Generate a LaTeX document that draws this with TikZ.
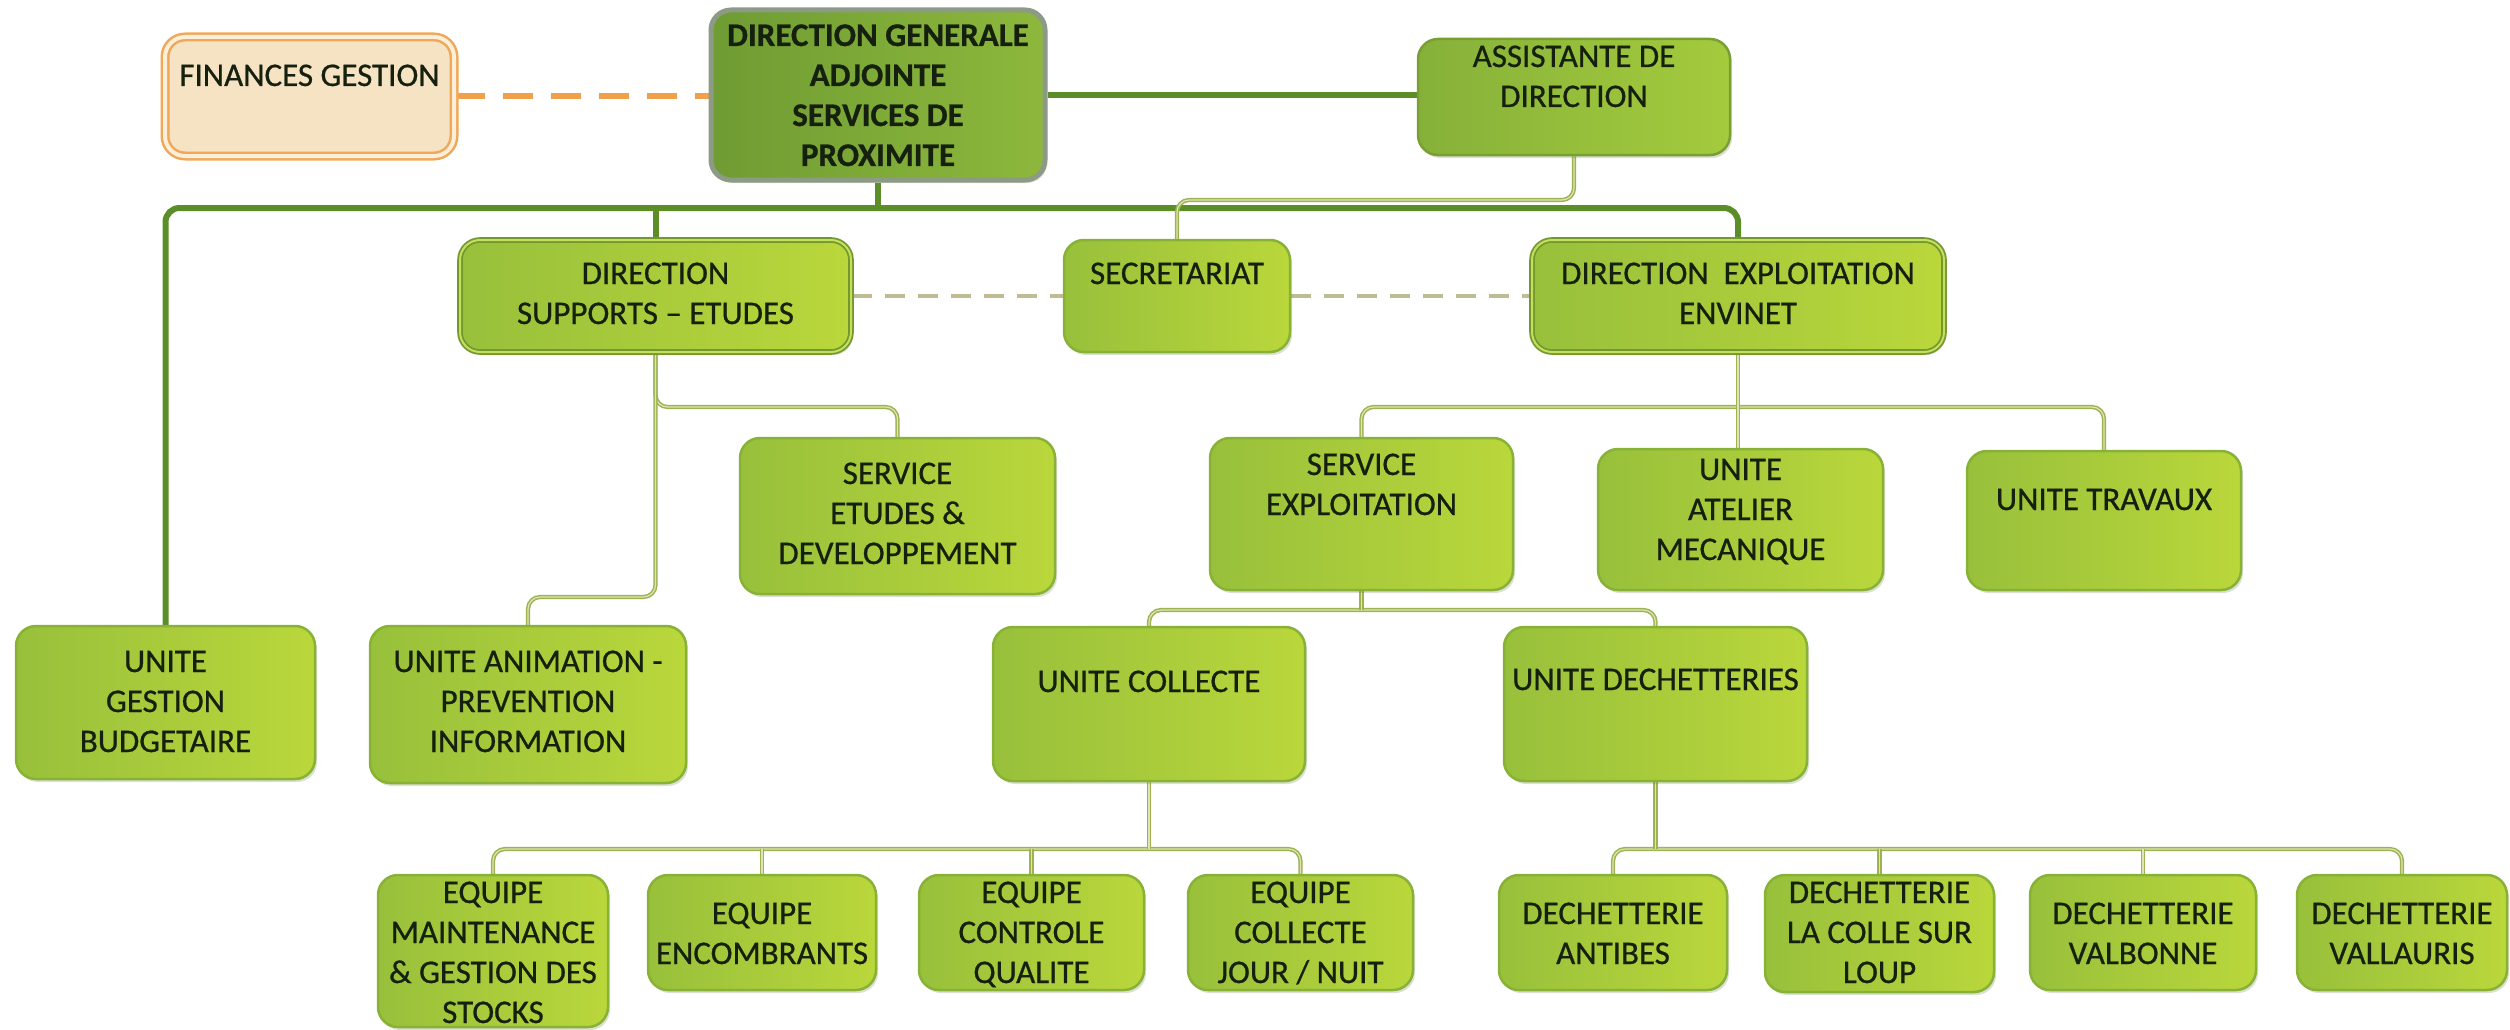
\documentclass[tikz,border=0pt]{standalone}
\usepackage{fontspec}
\setmainfont{Carlito}
\newfontfamily\boxfont{Carlito}[FakeBold=0.7,Ligatures=TeX]
\usetikzlibrary{shadows,backgrounds}
\definecolor{txt}{HTML}{16200F}
\definecolor{boxL}{HTML}{98C03B}
\definecolor{boxR}{HTML}{BAD73B}
\definecolor{boxedge}{HTML}{88B236}
\definecolor{dgaL}{HTML}{6F9C33}
\definecolor{dgaR}{HTML}{8DB83C}
\definecolor{dgaedge}{HTML}{8C9A86}
\definecolor{asstL}{HTML}{86B139}
\definecolor{asstR}{HTML}{A4CB3D}
\definecolor{finfill}{HTML}{F6E3C3}
\definecolor{finedge}{HTML}{F1A759}
\definecolor{findbl}{HTML}{FBEFD9}
\definecolor{thickc}{HTML}{5B8E27}
\definecolor{thinc}{HTML}{9EB350}
\definecolor{thinin}{HTML}{DDE5B8}
\definecolor{orangedash}{HTML}{F0A04B}
\definecolor{greydash}{HTML}{BDBC94}
\definecolor{shadowc}{HTML}{6E7F55}
\definecolor{inneredge}{HTML}{C4DE5E}
\newcommand\orgbox[8]{\node[#1] (#2) at ({(#3+#4)/2},{(#5+#6)/2}) {\parbox[c][\dimexpr#6pt-#5pt\relax][t]{\dimexpr#4pt-#3pt\relax}{\centering\boxfont\fontsize{33}{40}\selectfont\hyphenpenalty=10000\vspace*{#7pt}\strut #8}};}
\tikzset{
  box/.style={rounded corners=20pt, inner sep=0pt, draw=boxedge, line width=2.5pt,
    left color=boxL, right color=boxR, text=txt,
    drop shadow={shadow xshift=2pt, shadow yshift=-3pt, opacity=0.25, fill=shadowc}},
  dblbox/.style={box, draw=boxedge!85!black, double=inneredge, double distance=2pt, line width=1.8pt},
  dgabox/.style={box, draw=dgaedge, line width=5pt, left color=dgaL, right color=dgaR},
  asstbox/.style={box, left color=asstL, right color=asstR, draw=asstL!90!black},
  finbox/.style={rounded corners=20pt, inner sep=0pt, draw=finedge, double=findbl, double distance=4pt,
    line width=2.5pt, fill=finfill, text=txt},
  thickln/.style={draw=thickc, line width=6pt, rounded corners=14pt},
  thinln/.style={draw=thinc, double=thinin, double distance=1.2pt, line width=1.5pt, rounded corners=12pt},
  orgdash/.style={draw=orangedash, line width=6pt, dash pattern=on 30pt off 18pt},
  greydashln/.style={draw=greydash, line width=4pt, dash pattern=on 20pt off 13pt}
}
\begin{document}
\begin{tikzpicture}[x=1pt,y=-1pt]
\useasboundingbox (0,0) rectangle (2510,1030);
% top
\orgbox{finbox}{fin}{165}{454}{37}{156}{21}{FINANCES GESTION}
\orgbox{dgabox}{dga}{711}{1045}{10}{180}{8}{\bfseries DIRECTION GENERALE\\ADJOINTE\\SERVICES DE\\PROXIMITE}
\orgbox{asstbox}{asst}{1418}{1730}{39}{155}{0}{ASSISTANTE DE\\DIRECTION}
% level 2
\orgbox{dblbox}{dsup}{460}{851}{240}{352}{16}{DIRECTION\\SUPPORTS – ETUDES}
\orgbox{box}{secr}{1064}{1290}{240}{352}{16}{SECRETARIAT}
\orgbox{dblbox}{dexp}{1532}{1944}{240}{352}{16}{DIRECTION\ \ EXPLOITATION\\ENVINET}
% level 3
\orgbox{box}{setu}{740}{1055}{438}{594}{18}{SERVICE\\ETUDES \&\\DEVELOPPEMENT}
\orgbox{box}{sexp}{1210}{1513}{438}{590}{9}{SERVICE\\EXPLOITATION}
\orgbox{box}{uate}{1598}{1883}{449}{590}{3}{UNITE\\ATELIER\\MECANIQUE}
\orgbox{box}{utra}{1967}{2241}{451}{590}{31}{UNITE TRAVAUX}
% level 4
\orgbox{box}{ugb}{16}{315}{626}{779}{18}{UNITE\\GESTION\\BUDGETAIRE}
\orgbox{box}{uani}{370}{686}{626}{783}{18}{UNITE ANIMATION -\\PREVENTION\\INFORMATION}
\orgbox{box}{ucol}{993}{1305}{627}{781}{37}{UNITE COLLECTE}
\orgbox{box}{udec}{1504}{1807}{627}{781}{35}{UNITE DECHETTERIES}
% level 5
\orgbox{box}{emai}{378}{608}{875}{1027}{0}{EQUIPE\\MAINTENANCE\\\& GESTION DES\\STOCKS}
\orgbox{box}{eenc}{648}{876}{875}{990}{21}{EQUIPE\\ENCOMBRANTS}
\orgbox{box}{ectl}{919}{1144}{875}{990}{0}{EQUIPE\\CONTROLE\\QUALITE}
\orgbox{box}{ejn}{1188}{1413}{875}{990}{0}{EQUIPE\\COLLECTE\\JOUR / NUIT}
\orgbox{box}{dant}{1499}{1727}{875}{990}{21}{DECHETTERIE\\ANTIBES}
\orgbox{box}{dcol}{1765}{1994}{875}{992}{0}{DECHETTERIE\\LA COLLE SUR\\LOUP}
\orgbox{box}{dval}{2030}{2256}{875}{990}{21}{DECHETTERIE\\VALBONNE}
\orgbox{box}{dvll}{2297}{2507}{875}{990}{21}{DECHETTERIE\\VALLAURIS}
% bus coordinates
\coordinate (bus0) at (0,200);
\coordinate (bus1) at (0,208);
\coordinate (bus2) at (0,407);
\coordinate (bus3) at (0,597);
\coordinate (bus4) at (0,610);
\coordinate (bus5) at (0,849);
\begin{scope}[on background layer]
\draw[orgdash] (fin.east) -- (fin.east -| dga.west);
\draw[thickln] (dga.east) -- (dga.east -| asst.west);
\draw[thickln] (ugb.north) -- (ugb.north |- bus1) -- (dexp.north |- bus1) -- (dexp.north);
\draw[thickln] (dga.south) -- (dga.south |- bus1);
\draw[thickln] (dsup.north) -- (dsup.north |- bus1);
\draw[thinln] (asst.south) -- (asst.south |- bus0) -- (secr.north |- bus0) -- (secr.north);
\draw[greydashln] (dsup.east) -- (secr.west);
\draw[greydashln] (secr.east) -- (dexp.west);
\draw[thinln] (dsup.south) -- (dsup.south |- bus2) -- (setu.north |- bus2) -- (setu.north);
\draw[thinln] (dsup.south) -- (dsup.south |- bus3) -- (uani.north |- bus3) -- (uani.north);
\draw[thinln] (sexp.north) -- (sexp.north |- bus2) -- (utra.north |- bus2) -- (utra.north);
\draw[thinln] (dexp.south) -- (dexp.south |- uate.north);
\draw[thinln] (ucol.north) -- (ucol.north |- bus4) -- (udec.north |- bus4) -- (udec.north);
\draw[thinln] (sexp.south) -- (sexp.south |- bus4);
\draw[thinln] (emai.north) -- (emai.north |- bus5) -- (ejn.north |- bus5) -- (ejn.north);
\draw[thinln] (eenc.north) -- (eenc.north |- bus5);
\draw[thinln] (ectl.north) -- (ectl.north |- bus5);
\draw[thinln] (ucol.south) -- (ucol.south |- bus5);
\draw[thinln] (dant.north) -- (dant.north |- bus5) -- (dvll.north |- bus5) -- (dvll.north);
\draw[thinln] (dcol.north) -- (dcol.north |- bus5);
\draw[thinln] (dval.north) -- (dval.north |- bus5);
\draw[thinln] (udec.south) -- (udec.south |- bus5);
\end{scope}
\end{tikzpicture}
\end{document}
